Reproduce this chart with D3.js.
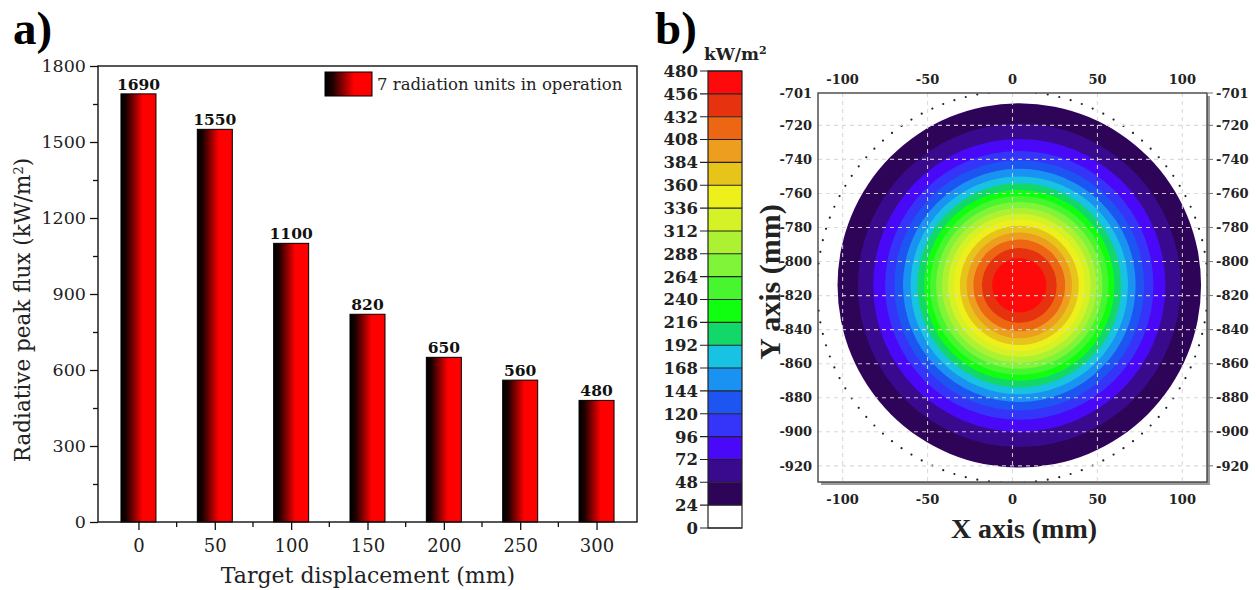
<!DOCTYPE html>
<html>
<head>
<meta charset="utf-8">
<script src="https://cdn.jsdelivr.net/npm/d3@7"></script>
<style>
  html, body { margin: 0; padding: 0; background: #fff; }
  svg { display: block; }
</style>
</head>
<body>
<svg id="chart" width="1256" height="590"></svg>
<script>
// ---------------- DATA ----------------
// Panel a) bar chart
const displacement = [0, 50, 100, 150, 200, 250, 300];
const peakFlux = [1690, 1550, 1100, 820, 650, 560, 480];
const fluxTicks = [0, 300, 600, 900, 1200, 1500, 1800];
const fluxMinorTicks = [150, 450, 750, 1050, 1350, 1650];
const legendLabel = "7 radiation units in operation";

// Panel b) flux map
const fluxLevels = [0, 24, 48, 72, 96, 120, 144, 168, 192, 216, 240, 264, 288, 312, 336, 360, 384, 408, 432, 456, 480];
// one colour per band fluxLevels[k] .. fluxLevels[k+1]
const bandColors = ["#ffffff", "#2e0458", "#3a0a8e", "#4a08f8", "#3535fa", "#1c55f2", "#1a92f2", "#18c2e2",
                    "#12d86a", "#10ff10", "#48f630", "#80f438", "#acf232", "#d4f226", "#eef01c",
                    "#e6c41a", "#ee9e1e", "#ec6614", "#e6320e", "#ff0a0a"];
// radius (mm) of each contour boundary (levels 24 ... 456)
const levelRadii = [107, 95, 86, 79, 73.5, 68.5, 64, 60, 56, 52.5, 49, 45.5, 42, 38.5, 35, 31, 27, 22, 16];
const spotCenter = { x: 4, y: -814 };
const apertureCenter = { x: 0, y: -815 };
const apertureRadius = 115;
const mapXTicks = [-100, -50, 0, 50, 100];
const mapYTicks = [-701, -720, -740, -760, -780, -800, -820, -840, -860, -880, -900, -920];
const mapYGrid = [-720, -740, -760, -780, -800, -820, -840, -860, -880, -900, -920];

// ---------------- DRAW ----------------
const svg = d3.select("#chart");
const defs = svg.append("defs");
const grad = defs.append("linearGradient").attr("id", "barGrad")
  .attr("x1", "0%").attr("x2", "100%").attr("y1", "0%").attr("y2", "0%");
grad.append("stop").attr("offset", "0%").attr("stop-color", "#000000");
grad.append("stop").attr("offset", "15%").attr("stop-color", "#1a0000");
grad.append("stop").attr("offset", "62%").attr("stop-color", "#ff0000");
grad.append("stop").attr("offset", "100%").attr("stop-color", "#ff0000");

const serif = "'DejaVu Serif', serif";
const times = "'Liberation Serif', 'Times New Roman', serif";

// ---- Panel a ----
const A = { left: 98, right: 637, top: 66, bottom: 522 };
const x = d3.scalePoint().domain(displacement).range([A.left, A.right]).padding(0.53);
const y = d3.scaleLinear().domain([0, 1800]).range([A.bottom, A.top]);
const step = x.step();
const barW = 35;

const gA = svg.append("g");

// bars
gA.selectAll("rect.bar").data(displacement).join("rect")
  .attr("class", "bar")
  .attr("x", d => x(d) - barW / 2)
  .attr("y", (d, i) => y(peakFlux[i]))
  .attr("width", barW)
  .attr("height", (d, i) => y(0) - y(peakFlux[i]))
  .attr("fill", "url(#barGrad)")
  .attr("stroke", "#000").attr("stroke-width", 1);

// value labels
gA.selectAll("text.val").data(displacement).join("text")
  .attr("class", "val")
  .attr("x", d => x(d))
  .attr("y", (d, i) => y(peakFlux[i]) - 4)
  .attr("text-anchor", "middle")
  .attr("font-family", serif).attr("font-weight", "bold").attr("font-size", 15.5)
  .attr("fill", "#111")
  .text((d, i) => peakFlux[i]);

// frame
gA.append("rect").attr("x", A.left).attr("y", A.top)
  .attr("width", A.right - A.left).attr("height", A.bottom - A.top)
  .attr("fill", "none").attr("stroke", "#111").attr("stroke-width", 1.4);

// y axis
const yAxis = d3.axisLeft(y).tickValues(fluxTicks).tickSize(8).tickPadding(4).tickFormat(d3.format("d"));
const gy = gA.append("g").attr("transform", `translate(${A.left},0)`).call(yAxis);
gy.select(".domain").remove();
gy.selectAll("line").attr("stroke", "#111").attr("stroke-width", 1.3);
gy.selectAll("text").attr("font-family", serif).attr("font-size", 17.5).attr("fill", "#222");
const gym = gA.append("g").attr("transform", `translate(${A.left},0)`)
  .call(d3.axisLeft(y).tickValues(fluxMinorTicks).tickSize(5).tickFormat(""));
gym.select(".domain").remove();
gym.selectAll("line").attr("stroke", "#111").attr("stroke-width", 1.3);

// x axis
const xAxis = d3.axisBottom(x).tickSize(8).tickPadding(9);
const gx = gA.append("g").attr("transform", `translate(0,${A.bottom})`).call(xAxis);
gx.select(".domain").remove();
gx.selectAll("line").attr("stroke", "#111").attr("stroke-width", 1.3);
gx.selectAll("text").attr("font-family", serif).attr("font-size", 18).attr("fill", "#222");
// minor x ticks (half steps)
const minorX = displacement.slice(0, -1).map(d => x(d) + step / 2);
gA.selectAll("line.mx").data(minorX).join("line").attr("class", "mx")
  .attr("x1", d => d).attr("x2", d => d)
  .attr("y1", A.bottom).attr("y2", A.bottom + 5)
  .attr("stroke", "#111").attr("stroke-width", 1.3);

// axis titles
gA.append("text")
  .attr("x", 368).attr("y", 583)
  .attr("text-anchor", "middle")
  .attr("font-family", serif).attr("font-size", 22).attr("fill", "#222")
  .text("Target displacement (mm)");
const yt = gA.append("text")
  .attr("transform", `translate(30,${(A.top + A.bottom) / 2 + 16}) rotate(-90)`)
  .attr("text-anchor", "middle")
  .attr("font-family", serif).attr("font-size", 21.5).attr("fill", "#222");
yt.append("tspan").text("Radiative peak flux (kW/m");
yt.append("tspan").attr("baseline-shift", "super").attr("font-size", 13).text("2");
yt.append("tspan").text(")");

// legend
gA.append("rect").attr("x", 325).attr("y", 72).attr("width", 47).attr("height", 24)
  .attr("fill", "url(#barGrad)").attr("stroke", "#000").attr("stroke-width", 1);
gA.append("text").attr("x", 377).attr("y", 90)
  .attr("font-family", serif).attr("font-size", 16.5).attr("fill", "#222")
  .text(legendLabel);

// panel label
svg.append("text").attr("x", 13).attr("y", 44)
  .attr("font-family", times).attr("font-weight", "bold").attr("font-size", 47)
  .attr("fill", "#000").text("a)");

// ---- Panel b : colour bar ----
const CB = { left: 708, right: 742 };
const cy = d3.scaleLinear().domain([0, 480]).range([528, 71]);
const gC = svg.append("g");
gC.selectAll("rect.band").data(bandColors).join("rect").attr("class", "band")
  .attr("x", CB.left).attr("width", CB.right - CB.left)
  .attr("y", (d, i) => cy(fluxLevels[i + 1]))
  .attr("height", (d, i) => cy(fluxLevels[i]) - cy(fluxLevels[i + 1]))
  .attr("fill", d => d);
gC.selectAll("line.lvl").data(fluxLevels).join("line").attr("class", "lvl")
  .attr("x1", CB.left - 8).attr("x2", CB.right)
  .attr("y1", d => cy(d)).attr("y2", d => cy(d))
  .attr("stroke", "#222").attr("stroke-width", 1.1);
gC.append("rect").attr("x", CB.left).attr("y", cy(480))
  .attr("width", CB.right - CB.left).attr("height", cy(0) - cy(480))
  .attr("fill", "none").attr("stroke", "#222").attr("stroke-width", 1.2);
gC.selectAll("text.lvl").data(fluxLevels).join("text").attr("class", "lvl")
  .attr("x", CB.left - 10).attr("y", d => cy(d))
  .attr("dy", "0.36em").attr("text-anchor", "end")
  .attr("font-family", serif).attr("font-weight", "bold").attr("font-size", 16.5)
  .attr("fill", "#222").text(d => d);
const unit = gC.append("text").attr("x", 704).attr("y", 60)
  .attr("font-family", serif).attr("font-weight", "bold").attr("font-size", 17).attr("fill", "#222");
unit.append("tspan").text("kW/m");
unit.append("tspan").attr("baseline-shift", "super").attr("font-size", 11).text("2");

svg.append("text").attr("x", 655).attr("y", 44)
  .attr("font-family", times).attr("font-weight", "bold").attr("font-size", 47)
  .attr("fill", "#000").text("b)");

// ---- Panel b : flux map ----
const M = { left: 818, right: 1207, top: 93, bottom: 482 };
const mx = d3.scaleLinear().domain([-114.5, 114.5]).range([M.left, M.right]);
const my = d3.scaleLinear().domain([-929.5, -701]).range([M.bottom, M.top]);
const gM = svg.append("g");
defs.append("clipPath").attr("id", "mapClip").append("rect")
  .attr("x", M.left).attr("y", M.top).attr("width", M.right - M.left).attr("height", M.bottom - M.top);

// shadow of frame
gM.append("rect").attr("x", M.left + 3).attr("y", M.top + 3)
  .attr("width", M.right - M.left).attr("height", M.bottom - M.top)
  .attr("fill", "#9a9a9a");
gM.append("rect").attr("x", M.left).attr("y", M.top)
  .attr("width", M.right - M.left).attr("height", M.bottom - M.top)
  .attr("fill", "#fff");

const gSpot = gM.append("g").attr("clip-path", "url(#mapClip)");
// contour bands: inside boundary of level fluxLevels[i+1] lies band i+1
gSpot.selectAll("ellipse").data(levelRadii).join("ellipse")
  .attr("cx", mx(spotCenter.x)).attr("cy", my(spotCenter.y))
  .attr("rx", d => mx(spotCenter.x + d) - mx(spotCenter.x))
  .attr("ry", d => my(spotCenter.y) - my(spotCenter.y + d))
  .attr("fill", (d, i) => bandColors[i + 1]);

// aperture dotted circle
const nDots = 104;
const dots = d3.range(nDots).map(k => {
  const a = 2 * Math.PI * k / nDots;
  return [apertureCenter.x + apertureRadius * Math.cos(a), apertureCenter.y + apertureRadius * Math.sin(a)];
});
gSpot.selectAll("circle.dot").data(dots).join("circle").attr("class", "dot")
  .attr("cx", d => mx(d[0])).attr("cy", d => my(d[1])).attr("r", 1.1).attr("fill", "#222");

// grid
gSpot.selectAll("line.gx").data(mapXTicks).join("line").attr("class", "gx")
  .attr("x1", d => mx(d)).attr("x2", d => mx(d)).attr("y1", M.top).attr("y2", M.bottom)
  .attr("stroke", "#d8d8d8").attr("stroke-width", 1.1).attr("stroke-dasharray", "4,4").attr("opacity", 0.9);
gSpot.selectAll("line.gy").data(mapYGrid).join("line").attr("class", "gy")
  .attr("y1", d => my(d)).attr("y2", d => my(d)).attr("x1", M.left).attr("x2", M.right)
  .attr("stroke", "#d8d8d8").attr("stroke-width", 1.1).attr("stroke-dasharray", "4,4").attr("opacity", 0.9);

// frame
gM.append("rect").attr("x", M.left).attr("y", M.top)
  .attr("width", M.right - M.left).attr("height", M.bottom - M.top)
  .attr("fill", "none").attr("stroke", "#444").attr("stroke-width", 1.4);

// right ticks
gM.selectAll("line.rt").data(mapYTicks).join("line").attr("class", "rt")
  .attr("x1", M.right + 1).attr("x2", M.right + 6)
  .attr("y1", d => my(d)).attr("y2", d => my(d))
  .attr("stroke", "#777").attr("stroke-width", 1);

const tickFont = { family: serif, size: 13 };
function mapText(sel) {
  return sel.attr("font-family", tickFont.family).attr("font-weight", "bold")
    .attr("font-size", tickFont.size).attr("fill", "#222");
}
mapText(gM.selectAll("text.tx").data(mapXTicks).join("text").attr("class", "tx")
  .attr("x", d => mx(d)).attr("y", M.top - 9).attr("text-anchor", "middle").text(d => d));
mapText(gM.selectAll("text.bx").data(mapXTicks).join("text").attr("class", "bx")
  .attr("x", d => mx(d)).attr("y", M.bottom + 22).attr("text-anchor", "middle").text(d => d));
mapText(gM.selectAll("text.ly").data(mapYTicks).join("text").attr("class", "ly")
  .attr("x", M.left - 6).attr("y", d => my(d)).attr("dy", "0.36em").attr("text-anchor", "end").text(d => d));
mapText(gM.selectAll("text.ry").data(mapYTicks).join("text").attr("class", "ry")
  .attr("x", M.right + 9).attr("y", d => my(d)).attr("dy", "0.36em").attr("text-anchor", "start").text(d => d));

gM.append("text").attr("x", 1024).attr("y", 538)
  .attr("text-anchor", "middle")
  .attr("font-family", times).attr("font-weight", "bold").attr("font-size", 28).attr("fill", "#222")
  .text("X axis (mm)");
gM.append("text")
  .attr("transform", `translate(780,282) rotate(-90)`)
  .attr("text-anchor", "middle")
  .attr("font-family", times).attr("font-weight", "bold").attr("font-size", 30).attr("fill", "#222")
  .text("Y axis (mm)");
</script>
</body>
</html>
